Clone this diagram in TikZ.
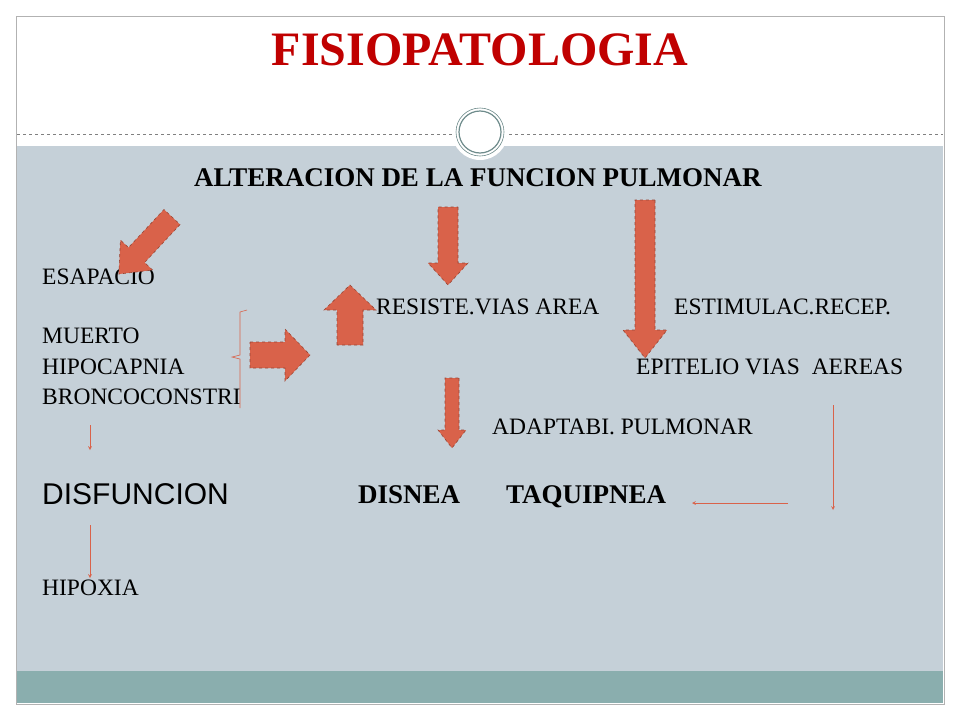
\documentclass[tikz,border=0pt]{standalone}
\usepackage{fontspec}
\setmainfont{Liberation Serif}
\setsansfont{Liberation Sans}
\definecolor{slidebg}{HTML}{C5D0D8}
\definecolor{band}{HTML}{8AAEAE}
\definecolor{arrowred}{HTML}{D9624A}
\definecolor{titlered}{HTML}{C00000}
\tikzset{
  bigarrow/.style={draw=arrowred!70!black, dashed, fill=arrowred, line width=0.6pt},
  txt/.style={anchor=base west, inner sep=0pt, font=\fontsize{23.5}{23.5}\selectfont},
  boldtxt/.style={font=\bfseries\fontsize{27}{27}\selectfont},
  thin/.style={->, draw=arrowred, line width=0.7pt, >=stealth}
}
% start x, start y, angle, length, shaft half width, head half width, head length
\newcommand\blkarrow[7]{%
  \begin{scope}[shift={(#1,#2)}, rotate=#3]
    \draw[bigarrow] (0,-#5) -- ({#4-#7},-#5) -- ({#4-#7},-#6) -- (#4,0)
      -- ({#4-#7},#6) -- ({#4-#7},#5) -- (0,#5) -- cycle;
  \end{scope}}
\begin{document}
\begin{tikzpicture}[x=1pt,y=-1pt]
            \useasboundingbox (0,0) rectangle (960,720);
            \fill[white] (0,0) rectangle (960,720);
            \fill[slidebg] (17,146) rectangle (943,671);
            \fill[band] (17,671) rectangle (943,703);
            \draw[gray!60] (16,16) rectangle (944,704);
            \draw[gray, dashed, line width=0.4pt] (17,134) -- (943,134);
            \fill[white] (480,132) circle (28);
            \draw[band!80!black, line width=1.2pt] (480,132) circle (21);
            \draw[band!80!black, line width=0.6pt] (480,132) circle (24);

            \node[font=\bfseries\fontsize{48}{48}\selectfont, text=titlered] (title) at (480,50) {FISIOPATOLOGIA};
            \node[boldtxt] (alt) at (478,178) {ALTERACION DE LA FUNCION PULMONAR};

            \node[txt] (esp) at (42,284) {ESAPACIO};
            \node[txt] (mue) at (42,343) {MUERTO};
            \node[txt] (hip) at (42,374) {HIPOCAPNIA};
            \node[txt] (bro) at (42,404) {BRONCOCONSTRI};
            \node[txt] (res) at (376,314) {RESISTE.VIAS AREA};
            \node[txt] (est) at (674,314) {ESTIMULAC.RECEP.};
            \node[txt] (epi) at (636,374) {EPITELIO VIAS\ \ AEREAS};
            \node[txt] (ada) at (492,434) {ADAPTABI. PULMONAR};
            \node[txt, font=\sffamily\fontsize{30}{30}\selectfont] (dis) at (42,504) {DISFUNCION};
            \node[txt, boldtxt] (dsn) at (358,503) {DISNEA};
            \node[txt, boldtxt] (taq) at (506,503) {TAQUIPNEA};
            \node[txt] (hpx) at (42,595) {HIPOXIA};

            % block arrows
            \blkarrow{172}{217}{227}{78}{11}{22}{26}
            \blkarrow{448}{207}{-90}{78}{10}{20}{22}
            \blkarrow{645}{200}{-90}{158}{10}{22}{28}
            \blkarrow{250}{355}{0}{60}{13}{26}{25}
            \blkarrow{350}{345}{90}{60}{13}{26}{25}
            \blkarrow{452}{378}{-90}{70}{7}{14}{18}

            % bracket
            \draw[arrowred, line width=0.6pt] (247,310) -- (240,312) -- (240,355) -- (232,357) -- (240,359) -- (240,408);

            % thin arrows
            \coordinate (t1a) at (90,425); \coordinate (t1b) at (90,450);
            \coordinate (t2a) at (833,405); \coordinate (t2b) at (833,510);
            \coordinate (t3a) at (788,503); \coordinate (t3b) at (692,503);
            \coordinate (t4a) at (90,525); \coordinate (t4b) at (90,578);
            \draw[thin] (t1a) -- (t1b);
            \draw[thin] (t2a) -- (t2b);
            \draw[thin] (t3a) -- (t3b);
            \draw[thin] (t4a) -- (t4b);
\end{tikzpicture}
\end{document}
